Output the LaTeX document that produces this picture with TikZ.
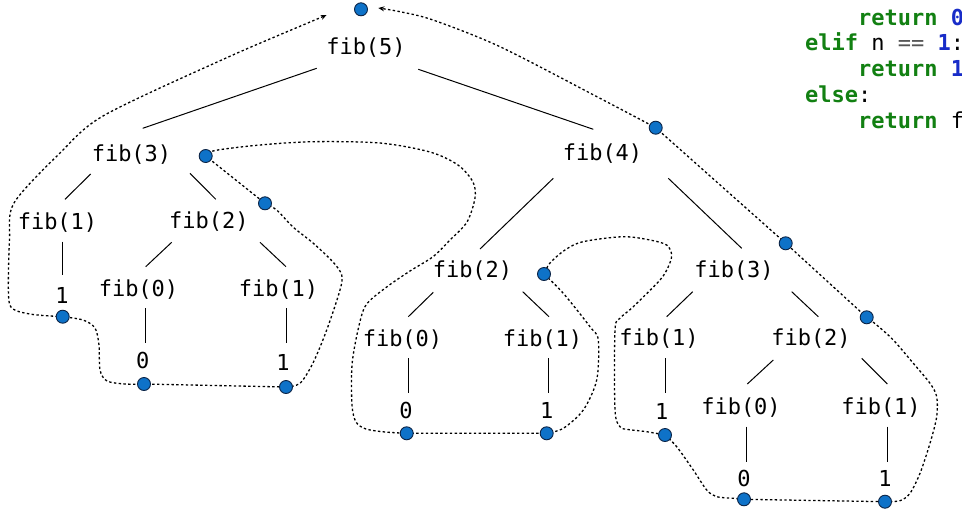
\documentclass[tikz,border=0pt]{standalone}
\usepackage{fontspec}
\setmonofont{DejaVu Sans Mono}
\usetikzlibrary{arrows.meta}
\definecolor{dotblue}{RGB}{14,114,200}
\definecolor{dotedge}{RGB}{12,36,70}
\definecolor{kwgreen}{RGB}{18,128,18}
\definecolor{numblue}{RGB}{24,44,200}
\definecolor{opgray}{RGB}{85,85,85}
\newcommand\codekw[1]{\textcolor{kwgreen}{\bfseries #1}}
\newcommand\codenum[1]{\textcolor{numblue}{\bfseries #1}}
\newcommand\codeop[1]{\textcolor{opgray}{#1}}
\pgfdeclarelayer{paper}
\pgfdeclarelayer{trailayer}
\pgfsetlayers{paper,trailayer,main}
\begin{document}
\begin{tikzpicture}[x=1pt,y=-1pt,
  call/.style={font=\ttfamily\fontsize{22}{26}\selectfont, inner sep=0pt},
  edge/.style={line width=1pt, black},
  trail/.style={line width=1.3pt, dash pattern=on 2.4pt off 2.4pt},
  marker/.style={circle, draw=dotedge, fill=dotblue, line width=0.9pt,
                 minimum size=13pt, inner sep=0pt},
  codeline/.style={font=\ttfamily\fontsize{22}{26}\selectfont, anchor=base west, inner sep=0pt},
  tips/.style={{Stealth[length=6pt,width=5pt]}-{Stealth[length=6pt,width=5pt]}}
]
\useasboundingbox (0,0) rectangle (962,520);
\begin{pgfonlayer}{paper}
\fill[white] (0,0) rectangle (962,520);
\end{pgfonlayer}
\clip (0,0) rectangle (962,520);

% code listing (right edge)
\node[codeline] (c1) at (858,25)    {\codekw{return} \codenum{0}};
\node[codeline] (c2) at (805,50.8)  {\codekw{elif} n \codeop{==} \codenum{1}:};
\node[codeline] (c3) at (858,76.6)  {\codekw{return} \codenum{1}};
\node[codeline] (c4) at (805,102.4) {\codekw{else}:};
\node[codeline] (c5) at (858,128.2) {\codekw{return} f};

% call tree
\node[call] (f5)  at (366,48)    {fib(5)};
\node[call] (f3a) at (131.5,155) {fib(3)};
\node[call] (f1a) at (57.5,223)  {fib(1)};
\node[call] (f2a) at (208.8,222) {fib(2)};
\node[call] (l1a) at (62,295)    {1};
\node[call] (f0a) at (138.5,290) {fib(0)};
\node[call] (f1b) at (278.5,290) {fib(1)};
\node[call] (l0a) at (142.7,360) {0};
\node[call] (l1b) at (283,362)   {1};

\node[call] (f4)  at (602.5,154) {fib(4)};
\node[call] (f2b) at (472.5,271) {fib(2)};
\node[call] (f0b) at (402.5,340) {fib(0)};
\node[call] (f1c) at (542.5,340) {fib(1)};
\node[call] (l0b) at (406,410)   {0};
\node[call] (l1c) at (546.7,410) {1};

\node[call] (f3b) at (734,271)   {fib(3)};
\node[call] (f1d) at (659,339)   {fib(1)};
\node[call] (f2c) at (811,339)   {fib(2)};
\node[call] (l1d) at (661.7,411.7) {1};
\node[call] (f0c) at (741,408)   {fib(0)};
\node[call] (f1e) at (881,408)   {fib(1)};
\node[call] (l0c) at (744,478)   {0};
\node[call] (l1e) at (885,478)   {1};

% tree edges
\draw[edge] ([shift={(-49.3,20.3)}]f5.center) -- ([shift={(11.2,-26.7)}]f3a.center);
\draw[edge] ([shift={(52.3,21.3)}]f5.center) -- ([shift={(-9.2,-24.7)}]f4.center);
\draw[edge] ([shift={(-40.8,19)}]f3a.center) -- ([shift={(7.5,-23.7)}]f1a.center);
\draw[edge] ([shift={(58.5,18.3)}]f3a.center) -- ([shift={(7,-22.7)}]f2a.center);
\draw[edge] ([shift={(5,18.7)}]f1a.center) -- ([shift={(0.5,-20)}]l1a.center);
\draw[edge] ([shift={(-37.1,20.3)}]f2a.center) -- ([shift={(7.2,-23.3)}]f0a.center);
\draw[edge] ([shift={(51.2,20.3)}]f2a.center) -- ([shift={(7.5,-23.3)}]f1b.center);
\draw[edge] ([shift={(7,18.3)}]f0a.center) -- ([shift={(2.8,-16.7)}]l0a.center);
\draw[edge] ([shift={(8,18)}]f1b.center) -- ([shift={(3.5,-19)}]l1b.center);

\draw[edge] ([shift={(-49.2,24.3)}]f4.center) -- ([shift={(7.5,-22)}]f2b.center);
\draw[edge] ([shift={(65.8,24.3)}]f4.center) -- ([shift={(7.7,-22.7)}]f3b.center);
\draw[edge] ([shift={(-39.2,21.3)}]f2b.center) -- ([shift={(5.8,-23.3)}]f0b.center);
\draw[edge] ([shift={(50.2,20.7)}]f2b.center) -- ([shift={(6.5,-23.3)}]f1c.center);
\draw[edge] ([shift={(6,18)}]f0b.center) -- ([shift={(2.5,-16.7)}]l0b.center);
\draw[edge] ([shift={(6,18)}]f1c.center) -- ([shift={(1.8,-17)}]l1c.center);

\draw[edge] ([shift={(-41.3,20.7)}]f3b.center) -- ([shift={(7.7,-22.3)}]f1d.center);
\draw[edge] ([shift={(57.7,20.7)}]f3b.center) -- ([shift={(7.3,-22.3)}]f2c.center);
\draw[edge] ([shift={(6.5,19.3)}]f1d.center) -- ([shift={(3.8,-18.4)}]l1d.center);
\draw[edge] ([shift={(-37.7,21)}]f2c.center) -- ([shift={(6.3,-24)}]f0c.center);
\draw[edge] ([shift={(50.7,19.3)}]f2c.center) -- ([shift={(6.3,-24)}]f1e.center);
\draw[edge] ([shift={(5.5,18.7)}]f0c.center) -- ([shift={(2.5,-16.3)}]l0c.center);
\draw[edge] ([shift={(6.5,18.7)}]f1e.center) -- ([shift={(2.5,-16.3)}]l1e.center);

% markers on the trace
\node[marker] (dtop) at (361,9.3) {};
\node[marker] (dR1)  at (655.7,127.7) {};
\node[marker] (dR2)  at (785.7,243.3) {};
\node[marker] (dR3)  at (866.7,317.3) {};
\node[marker] (d3a)  at (205.7,156) {};
\node[marker] (d3a2) at (265,203.3) {};
\node[marker] (dl1a) at (62.7,316.7) {};
\node[marker] (dl0a) at (144,384) {};
\node[marker] (dl1b) at (286,387) {};
\node[marker] (d2b)  at (544,274) {};
\node[marker] (dl0b) at (406.7,433.3) {};
\node[marker] (dl1c) at (546.7,433.3) {};
\node[marker] (dl1d) at (665,435) {};
\node[marker] (dl0c) at (744,499.3) {};
\node[marker] (dl1e) at (885,501.7) {};

% evaluation trace around the tree
\begin{pgfonlayer}{trailayer}
\draw[trail, tips]
  plot[smooth] coordinates {(326.7,15) (215,63) (103,116) (60,153) (14,203) (9.5,240) (8.5,295) (13,309) (33,314.5) (dl1a.center)}
  -- plot[smooth] coordinates {(dl1a.center) (83,320) (95,328) (99,345) (100,370) (107,381) (125,384) (dl0a.center)}
  -- (dl1b.center)
  -- plot[smooth] coordinates {(dl1b.center) (300,383.3) (313,363) (326.7,330) (340,290) (341.7,275) (333,262) (313,243) (293,227) (276.7,210) (d3a2.center)}
  -- (d3a.center)
  -- plot[smooth] coordinates {(d3a.center) (215,150.5) (260,145) (313,141.7) (380,143) (430,152) (458,165) (473,182) (475,198) (467,222) (450,240) (433,256.7) (410,271) (386.7,287) (366,305) (358,330) (352,365) (352,405) (356,422) (366,429) (385,432) (dl0b.center)}
  -- (dl1c.center)
  -- plot[smooth] coordinates {(dl1c.center) (563.3,428.3) (583.3,410) (596.7,380) (598.3,340) (590,326.7) (563.3,293.3) (d2b.center)}
  -- plot[smooth] coordinates {(d2b.center) (550,263) (565,250) (583,241.7) (623,236.7) (650,240) (666.7,245) (671.7,255) (668.3,266.7) (660,280) (633.3,306.7) (620,318.3) (615,330) (615,410) (620,426.7) (626.7,429.3) (646.7,431.7) (dl1d.center)}
  -- plot[smooth] coordinates {(dl1d.center) (676.7,446.7) (693.3,470) (706.7,490) (716.7,496.7) (733.3,498.3) (dl0c.center)}
  -- (dl1e.center)
  -- plot[smooth] coordinates {(dl1e.center) (900,500.7) (910,493.3) (920,473.3) (930,443.3) (936.7,416.7) (936.7,396.7) (930,383.3) (913.3,363.3) (893.3,340) (876.7,325) (dR3.center)}
  -- (dR2.center) -- (dR1.center)
  -- plot[smooth] coordinates {(dR1.center) (600,98.3) (500,46.7) (433,20) (400,11.7) (378.3,8)};
\end{pgfonlayer}
\end{tikzpicture}
\end{document}
